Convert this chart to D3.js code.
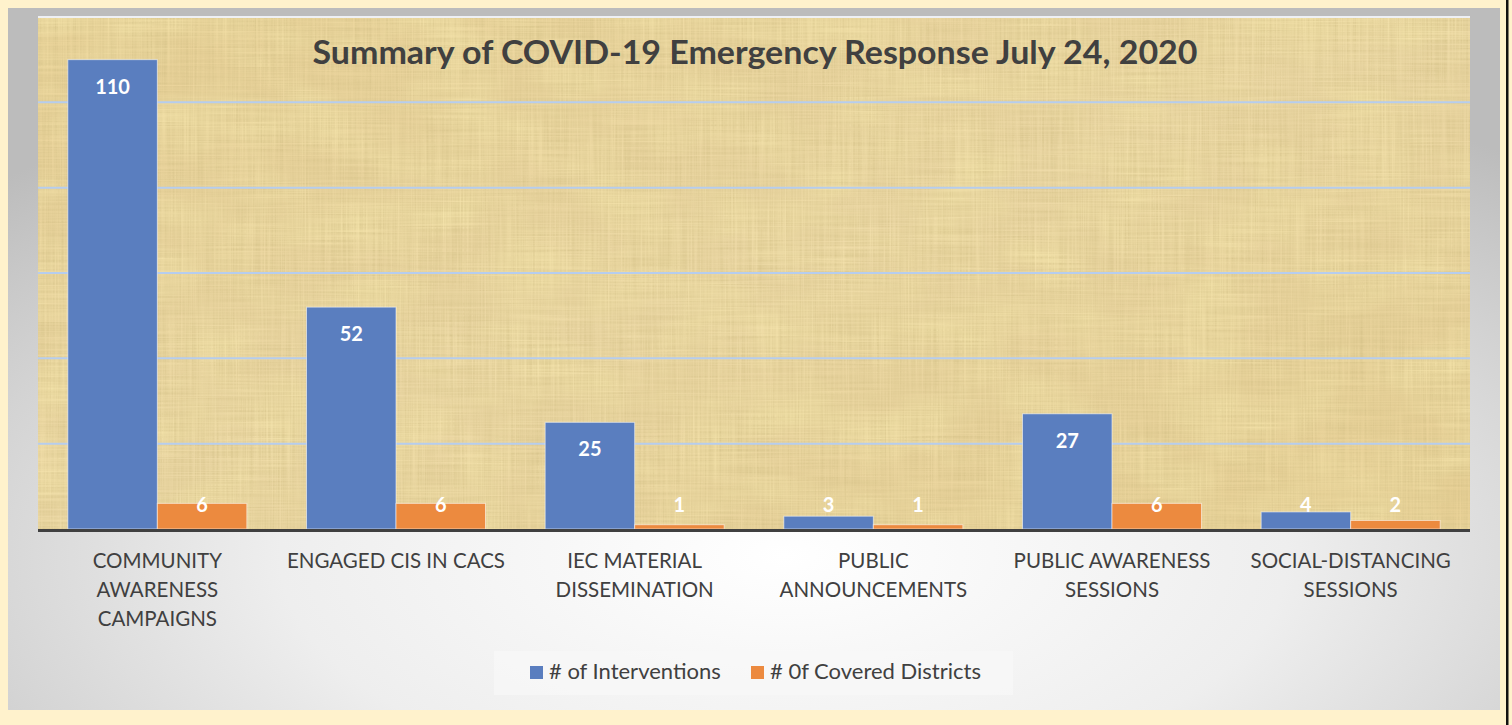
<!DOCTYPE html>
<meta charset="utf-8">
<script src="https://d3js.org/d3.v7.min.js"></script>
<style>
  body { margin: 0; background: #fff2cc; }
  svg text { font-family: Lato, "Open Sans", sans-serif; }
</style>
<div id="chart"></div>
<script>

// Datos del gráfico
var categories = [
  "COMMUNITY AWARENESS CAMPAIGNS",
  "ENGAGED CIS IN CACS",
  "IEC MATERIAL DISSEMINATION",
  "PUBLIC ANNOUNCEMENTS",
  "PUBLIC AWARENESS SESSIONS",
  "SOCIAL-DISTANCING SESSIONS"
];
var categoryLines = [
  ["COMMUNITY", "AWARENESS", "CAMPAIGNS"],
  ["ENGAGED CIS IN CACS"],
  ["IEC MATERIAL", "DISSEMINATION"],
  ["PUBLIC", "ANNOUNCEMENTS"],
  ["PUBLIC AWARENESS", "SESSIONS"],
  ["SOCIAL-DISTANCING", "SESSIONS"]
];
var interventions = [110, 52, 25, 3, 27, 4];
var districts = [6, 6, 1, 1, 6, 2];
var seriesNames = ["# of Interventions", "# 0f Covered Districts"];
var yTicks = [0, 20, 40, 60, 80, 100, 120];

var W = 1512, H = 725;
var plot = {left: 38, right: 1470, top: 17, bottom: 529};
var colors = ["#5a7ebf", "#ec8a3f"];

var svg = d3.select("#chart").append("svg")
  .attr("width", W).attr("height", H);

var defs = svg.append("defs");

// degradado gris del fondo
var rg = defs.append("radialGradient").attr("id", "panelGrad")
  .attr("cx", "52%").attr("cy", "78%").attr("r", "75%");
rg.append("stop").attr("offset", "0%").attr("stop-color", "#ffffff");
rg.append("stop").attr("offset", "45%").attr("stop-color", "#eeeeee");
rg.append("stop").attr("offset", "100%").attr("stop-color", "#bcbcbc");

var pg = defs.append("linearGradient").attr("id", "papGrad")
  .attr("x1", 0).attr("y1", 0).attr("x2", 1).attr("y2", 1);
pg.append("stop").attr("offset", "0%").attr("stop-color", "#ecd49a");
pg.append("stop").attr("offset", "50%").attr("stop-color", "#f0dcaa");
pg.append("stop").attr("offset", "100%").attr("stop-color", "#ebd398");

// textura tipo papiro (fibras verticales y horizontales)
var f = defs.append("filter").attr("id", "papyrus")
  .attr("x", 0).attr("y", 0).attr("width", 1).attr("height", 1);
f.append("feTurbulence").attr("type", "fractalNoise")
  .attr("baseFrequency", "0.6 0.01").attr("numOctaves", 2).attr("seed", 3).attr("result", "n1");
f.append("feTurbulence").attr("type", "fractalNoise")
  .attr("baseFrequency", "0.01 0.6").attr("numOctaves", 2).attr("seed", 8).attr("result", "n2");
f.append("feBlend").attr("in", "n1").attr("in2", "n2").attr("mode", "multiply").attr("result", "n");
f.append("feColorMatrix").attr("in", "n").attr("type", "matrix")
  .attr("values", "0 0 0 0 0.62  0 0 0 0 0.5  0 0 0 0 0.22  1.0 0 0 0 -0.12");

var f2 = defs.append("filter").attr("id", "blotch")
  .attr("x", 0).attr("y", 0).attr("width", 1).attr("height", 1);
f2.append("feTurbulence").attr("type", "fractalNoise")
  .attr("baseFrequency", "0.012 0.02").attr("numOctaves", 3).attr("seed", 5).attr("result", "b");
f2.append("feColorMatrix").attr("in", "b").attr("type", "matrix")
  .attr("values", "0 0 0 0 0.93  0 0 0 0 0.8  0 0 0 0 0.42  1.6 0 0 0 -0.55");

// fondo y marco
svg.append("rect").attr("width", W).attr("height", H).attr("fill", "#fff2cc");
svg.append("rect").attr("x", 8).attr("y", 8).attr("width", 1492).attr("height", 702)
  .attr("fill", "url(#panelGrad)");
svg.append("rect").attr("x", 1506).attr("y", 0).attr("width", 2.5).attr("height", H)
  .attr("fill", "#111");

var plotW = plot.right - plot.left, plotH = plot.bottom - plot.top;
svg.append("rect").attr("x", plot.left).attr("y", plot.top)
  .attr("width", plotW).attr("height", plotH).attr("fill", "url(#papGrad)");
svg.append("rect").attr("x", plot.left).attr("y", plot.top)
  .attr("width", plotW).attr("height", plotH).attr("fill", "#000").attr("filter", "url(#blotch)");
svg.append("rect").attr("x", plot.left).attr("y", plot.top)
  .attr("width", plotW).attr("height", plotH).attr("fill", "#000").attr("filter", "url(#papyrus)");

// escalas
var x = d3.scaleBand().domain(categories).range([plot.left, plot.right])
  .paddingInner(0.25).paddingOuter(0.125);
var xs = d3.scaleBand().domain([0, 1]).range([0, x.bandwidth()]);
var y = d3.scaleLinear().domain([0, 120]).range([plot.bottom, plot.top]);

// líneas de cuadrícula
svg.append("g").selectAll("line").data(yTicks.filter(function(d) { return d > 0; }))
  .join("line")
  .attr("x1", plot.left).attr("x2", plot.right)
  .attr("y1", function(d) { return y(d); }).attr("y2", function(d) { return y(d); })
  .attr("stroke", function(d) { return d === 120 ? "#eef0f4" : "#b6cdee"; })
  .attr("stroke-width", 2);

// barras
var rows = categories.map(function(c, i) {
  return [{cat: c, s: 0, v: interventions[i]}, {cat: c, s: 1, v: districts[i]}];
});
var flat = [].concat.apply([], rows);

svg.append("g").selectAll("rect").data(flat).join("rect")
  .attr("x", function(d) { return x(d.cat) + xs(d.s); })
  .attr("y", function(d) { return y(d.v); })
  .attr("width", xs.bandwidth())
  .attr("height", function(d) { return y(0) - y(d.v); })
  .attr("fill", function(d) { return colors[d.s]; })
  .attr("stroke", "rgba(255,255,255,0.55)").attr("stroke-width", 1);

// etiquetas de valores
svg.append("g").selectAll("text").data(flat).join("text")
  .attr("x", function(d) { return x(d.cat) + xs(d.s) + xs.bandwidth() / 2; })
  .attr("y", function(d) { return Math.min(y(d.v) + 34, y(0) - 17.5); })
  .attr("text-anchor", "middle")
  .attr("fill", "#fff").style("font-size", "20px").style("font-weight", "bold")
  .text(function(d) { return d.v; });

// eje X
svg.append("line").attr("x1", plot.left).attr("x2", plot.right)
  .attr("y1", y(0) + 1.5).attr("y2", y(0) + 1.5)
  .attr("stroke", "#404040").attr("stroke-width", 3);

var cats = svg.append("g").selectAll("text").data(categories).join("text")
  .attr("x", function(d) { return x(d) + x.bandwidth() / 2; })
  .attr("text-anchor", "middle")
  .attr("fill", "#404040").style("font-size", "20.5px");
cats.each(function(d, i) {
  var t = d3.select(this);
  categoryLines[i].forEach(function(line, k) {
    t.append("tspan").attr("x", x(d) + x.bandwidth() / 2)
      .attr("y", 568 + k * 29).text(line);
  });
});

// título
svg.append("text")
  .attr("x", 755).attr("y", 64)
  .attr("text-anchor", "middle")
  .attr("fill", "#404040")
  .attr("textLength", 885).attr("lengthAdjust", "spacingAndGlyphs")
  .style("font-size", "32px").style("font-weight", "bold")
  .text("Summary of COVID-19 Emergency Response July 24, 2020");

// leyenda
svg.append("rect").attr("x", 494).attr("y", 651).attr("width", 519).attr("height", 44)
  .attr("fill", "#f8f8f8").attr("opacity", 0.7);
var legX = [530, 751];
var leg = svg.append("g").selectAll("g").data(seriesNames).join("g")
  .attr("transform", function(d, i) { return "translate(" + legX[i] + ",666)"; });
leg.append("rect").attr("width", 13).attr("height", 13)
  .attr("fill", function(d, i) { return colors[i]; });
leg.append("text").attr("x", 19).attr("y", 13)
  .attr("fill", "#404040").style("font-size", "22px")
  .text(function(d) { return d; });

</script>
